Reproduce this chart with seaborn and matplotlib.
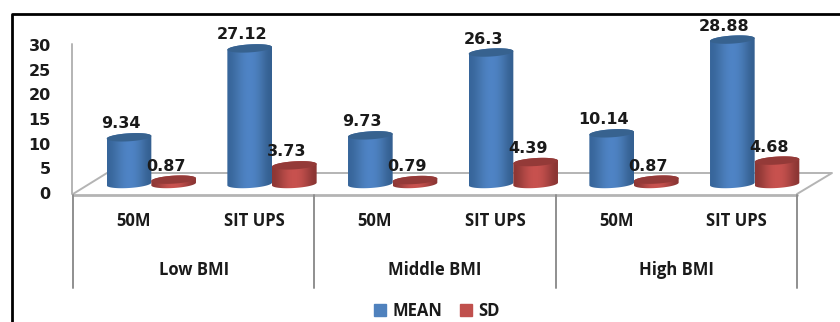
import numpy as np
import pandas as pd
import matplotlib
matplotlib.use("Agg")
import matplotlib.pyplot as plt
import seaborn as sns
from matplotlib.lines import Line2D
from matplotlib.patches import Patch, PathPatch, Polygon
from matplotlib.path import Path

# Fitness test results by BMI group
groups = ["Low BMI", "Middle BMI", "High BMI"]
tests = ["50M", "SIT UPS", "50M", "SIT UPS", "50M", "SIT UPS"]
mean_values = [9.34, 27.12, 9.73, 26.3, 10.14, 28.88]
sd_values = [0.87, 3.73, 0.79, 4.39, 0.87, 4.68]
value_ticks = [0, 5, 10, 15, 20, 25, 30]

W, H = 840, 322
BLUE = "#4f81bd"
RED = "#c0504d"
GRID = "#b4b4b4"
TEXT = "#1a1a1a"
LABEL_FONT = "Open Sans"

sns.set_theme(style="white")
plt.rcParams["font.family"] = ["DejaVu Sans"]

fig = plt.figure(figsize=(W / 100, H / 100), dpi=100, facecolor="white")


def rect(left, top, right, bottom):
    return [left / W, 1 - bottom / H, (right - left) / W, (bottom - top) / H]


def line(xs, ys, color=GRID, lw=1.4, z=1):
    fig.add_artist(Line2D([x / W for x in xs], [1 - y / H for y in ys],
                          color=color, lw=lw, zorder=z))


# Value axis and category labels
frame = fig.add_axes(rect(73, 45, 797, 193), facecolor="none", zorder=1)
frame.set_xlim(-0.5, 5.5)
frame.set_ylim(0, 30)
for s in frame.spines.values():
    s.set_visible(False)
frame.set_yticks(value_ticks)
frame.set_yticklabels(value_ticks, fontsize=11.5, fontweight="bold", color=TEXT)
frame.tick_params(axis="y", length=0, pad=16)
frame.set_xticks(range(6))
frame.set_xticklabels(tests, fontsize=12, fontweight="bold", color=TEXT,
                      family=LABEL_FONT)
frame.tick_params(axis="x", length=0, pad=14)
for i, g in enumerate(groups):
    frame.annotate(g, xy=(2 * i + 0.5, 0), xycoords=("data", "axes fraction"),
                   xytext=(0, -77 * 0.72), textcoords="offset points",
                   ha="center", va="center", fontsize=12, fontweight="bold",
                   color=TEXT, family=LABEL_FONT)

# Walls, floor and group separators
line([72, 72], [44, 194])
line([73, 797], [195, 195], lw=2)
line([73, 107, 832, 797], [194, 173, 173, 194])
for x in (73, 314.3, 555.7, 797):
    line([x, x], [195, 288], color="#8f8f8f", lw=1.4)

# Outer border of the figure panel
line([12, 12, 840], [322, 14, 14], color="black", lw=2)

# Bars: 0 sits on the floor, shifted back by the floor's depth
PX_Y = 5.0
BASE = 184
BOT, TOP = 196, 16
ax = fig.add_axes(rect(91, TOP, 815, BOT), facecolor="none", zorder=2)
df = pd.DataFrame({
    "slot": list(range(6)) * 2,
    "value": mean_values + sd_values,
    "series": ["MEAN"] * 6 + ["SD"] * 6,
})
sns.barplot(data=df, x="slot", y="value", hue="series", ax=ax, width=0.74,
            palette=[BLUE, RED], gap=0, legend=False, errorbar=None)
PX_X = 724 / 6
ax.set_xlim(-0.5, 5.5)
ylim = ((BASE - BOT) / PX_Y, (BASE - TOP) / PX_Y)
ax.set_ylim(*ylim)
ax.axis("off")

shades = {
    BLUE: ["#37659a", "#4677b0", "#4f84c6", "#4f84c6", "#4677b0", "#345f90"],
    RED: ["#8c3634", "#b04845", "#c9524f", "#c9524f", "#b04845", "#8a3533"],
}
caps = {BLUE: "#37628f", RED: "#943a38"}


def ring(cx, base, half, ry, t):
    # Points on a slightly tilted ellipse, in data units
    dx = half * np.cos(t)
    dy_px = ry * np.sin(t) + dx * PX_X * np.tan(np.radians(3.5))
    return cx + dx, base + dy_px / PX_Y


bars = [p for p in ax.patches if p.get_width() > 0]
for bar in bars:
    color = BLUE if bar.get_facecolor()[2] > bar.get_facecolor()[0] else RED
    bar.set_visible(False)
    x0, w, h = bar.get_x(), bar.get_width(), bar.get_height()
    cx, half = x0 + w / 2, w / 2
    ry = 4.0

    low = np.linspace(np.pi, 2 * np.pi, 40)
    hi = np.linspace(0, np.pi, 40)
    bx, by = ring(cx, 0, half, ry, low)
    tx, ty = ring(cx, h, half, ry, hi)
    body = PathPatch(Path(np.r_[np.c_[bx, by], np.c_[tx, ty], [[bx[0], by[0]]]]),
                     transform=ax.transData, facecolor="none", edgecolor="none")
    ax.add_patch(body)
    rgb = np.array([matplotlib.colors.to_rgb(c) for c in shades[color]])[None, :, :]
    im = ax.imshow(rgb, extent=(x0, x0 + w, -2, h + 2), aspect="auto",
                   interpolation="bicubic", zorder=3)
    im.set_clip_path(body)

    t = np.linspace(0, 2 * np.pi, 80)
    cx_pts, cy_pts = ring(cx, h, half, ry, t)
    ax.add_patch(Polygon(np.c_[cx_pts, cy_pts], closed=True, facecolor=caps[color],
                         edgecolor="none", zorder=4))

    ax.annotate(f"{h:g}", xy=(cx, h), xytext=(-8 * 0.72, 13.5 * 0.72),
                textcoords="offset points", ha="center", va="center",
                fontsize=11.5, fontweight="bold", color=TEXT, zorder=6,
                annotation_clip=False)

ax.set_xlim(-0.5, 5.5)
ax.set_ylim(*ylim)

# Legend along the bottom edge
fig.legend(handles=[Patch(color=BLUE, label="MEAN"), Patch(color=RED, label="SD")],
           loc="center", bbox_to_anchor=(437 / W, 1 - 311 / H), ncol=2, frameon=False,
           prop={"family": LABEL_FONT, "weight": "bold", "size": 12},
           handlelength=0.72, handleheight=0.72, handletextpad=0.4, columnspacing=1.0,
           labelcolor=TEXT, borderpad=0)

fig.savefig("out.png", dpi=100, facecolor="white")
